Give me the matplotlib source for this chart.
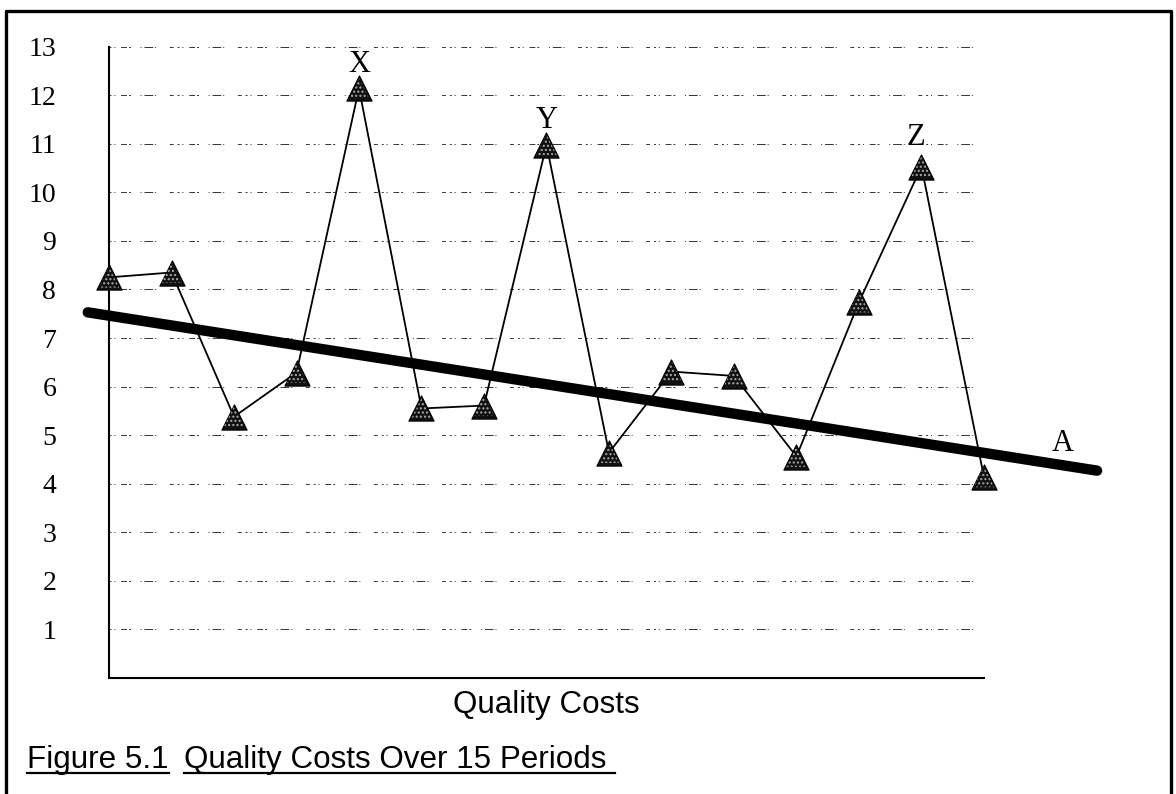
import matplotlib.pyplot as plt
from matplotlib.lines import Line2D

# Quality cost per period
periods = list(range(1, 16))
costs = [8.25, 8.35, 5.38, 6.29, 12.14, 5.55, 5.61, 10.98,
         4.64, 6.31, 6.22, 4.56, 7.74, 10.53, 4.14]

# Out-of-line points marked with letters
peak_periods = [5, 8, 14]
peak_letters = ["X", "Y", "Z"]

# Downward trend line "A"
trend_x = [0.66, 16.81]
trend_y = [7.53, 4.27]
trend_letter = "A"

y_ticks = list(range(1, 14))

SERIF = "Liberation Serif"
SANS = "Liberation Sans"

fig = plt.figure(figsize=(11.76, 7.94), dpi=100)
ax = fig.add_axes([0.0927, 0.1461, 0.7440, 0.7951])

# broken-looking dotted gridlines
grid_dash = (0, (2, 3, 1, 6, 6, 2, 2, 10, 1, 3, 9, 2, 1, 14, 4, 4))
for v in y_ticks:
    ax.plot([1, 15], [v, v], color="#333333", lw=0.7,
            linestyle=grid_dash, zorder=1)

ax.plot(periods, costs, color="black", lw=1.3, zorder=2)
ax.plot(trend_x, trend_y, color="black", lw=7.5, solid_capstyle="round",
        clip_on=False, zorder=3)

# stippled triangle markers
ax.scatter(periods, costs, marker="^", s=330, facecolor="#111111",
           edgecolor="black", linewidth=0.8, zorder=4, clip_on=False)
ax.scatter(periods, costs, marker="^", s=220, facecolor="none",
           edgecolor="#aaaaaa", linewidth=0, hatch="....", zorder=5,
           clip_on=False)

for p, letter in zip(peak_periods, peak_letters):
    dx = -6 if letter == "Z" else 0
    dy = 29 if letter == "Z" else 24
    ax.annotate(letter, (p, costs[p - 1]), xytext=(dx, dy),
                textcoords="offset pixels", ha="center", va="center",
                fontsize=22, family=SERIF, annotation_clip=False)

ax.text(16.26, 4.82, trend_letter, ha="center", va="center",
        fontsize=22, family=SERIF, clip_on=False)

ax.set_xlim(1, 15)
ax.set_ylim(0, 13)
ax.set_yticks(y_ticks)
ax.set_yticklabels([str(v) for v in y_ticks], fontsize=20, family=SERIF)
ax.tick_params(axis="y", length=0, pad=38)
ax.set_xticks([])
for side in ["top", "right"]:
    ax.spines[side].set_visible(False)
for side in ["left", "bottom"]:
    ax.spines[side].set_linewidth(1.5)

ax.set_xlabel("Quality Costs", fontsize=22.6, family=SANS, labelpad=9)

# caption with underlined pieces
cap_y = 1 - 768 / 794
t1 = fig.text(27 / 1176, cap_y, "Figure 5.1", fontsize=22.6, family=SANS,
              va="baseline")
t2 = fig.text(184 / 1176, cap_y, "Quality Costs Over 15 Periods",
              fontsize=22.6, family=SANS, va="baseline")
fig.canvas.draw()
renderer = fig.canvas.get_renderer()
W, H = fig.bbox.width, fig.bbox.height
for t, extra in [(t1, 0), (t2, 9)]:
    bb = t.get_window_extent(renderer)
    uy = (794 - 773) / H
    fig.add_artist(Line2D([bb.x0 / W, (bb.x1 + extra) / W], [uy, uy],
                          color="black", lw=1.6))

# outer frame
fig.add_artist(Line2D([6 / W, 6 / W, 1171 / W, 1171 / W],
                      [0, 1 - 11 / H, 1 - 11 / H, 0],
                      color="black", lw=2.4))

fig.savefig("out.png", dpi=100)
